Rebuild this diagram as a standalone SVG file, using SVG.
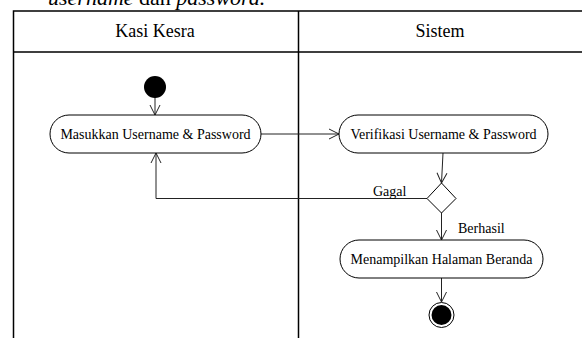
<svg xmlns="http://www.w3.org/2000/svg" width="582" height="338" viewBox="0 0 582 338">
  <style>
    .lane { fill: none; stroke: #000; stroke-width: 1.5; }
    .head { font-family: "Liberation Serif", "Times New Roman", serif; font-size: 18px; fill: #000; text-anchor: middle; }
    .act rect { fill: #fff; stroke: #000; stroke-width: 1; }
    .lbl { font-family: "Liberation Serif", "Times New Roman", serif; font-size: 14px; fill: #000; }
    .act text { text-anchor: middle; }
    .flow { fill: none; stroke: #222; stroke-width: 1; marker-end: url(#open); }
    .cap { font-family: "Liberation Serif", "Times New Roman", serif; font-size: 22px; fill: #000; }
  </style>
  <defs>
    <marker id="open" viewBox="0 0 12 12" refX="11" refY="6" markerWidth="12" markerHeight="12" markerUnits="userSpaceOnUse" orient="auto">
      <path d="M1,1 L11,6 L1,11" fill="none" stroke="#222" stroke-width="1"/>
    </marker>
  </defs>

  <rect width="582" height="338" fill="#fff"/>

  <!-- caption line running off the top edge -->
  <text class="cap" x="48" y="5"><tspan font-style="italic">username</tspan> dan <tspan font-style="italic">password.</tspan></text>

  <!-- swimlanes -->
  <g id="lanes">
    <path class="lane" d="M13.5,338 V11 H582 M13.5,52 H582 M298.5,11 V338"/>
    <text class="head" x="155" y="37">Kasi Kesra</text>
    <text class="head" x="440" y="37">Sistem</text>
  </g>

  <!-- connectors -->
  <g id="connectors">
    <path class="flow" d="M155,97 V115"/>
    <path class="flow" d="M261,134 H339"/>
    <path class="flow" d="M443,153 L441.5,183"/>
    <path class="flow" d="M427,198.5 H156 V153"/>
    <path class="flow" d="M441.5,213 V240"/>
    <path class="flow" d="M441.5,278 V302"/>
    <text class="lbl" x="373" y="196">Gagal</text>
    <text class="lbl" x="458" y="233">Berhasil</text>
  </g>

  <g id="start">
    <circle cx="155" cy="87" r="11" fill="#000"/>
  </g>

  <g id="masukkan" class="act">
    <rect x="50" y="115" width="211" height="38" rx="19" ry="19"/>
    <text class="lbl" x="155.5" y="139">Masukkan Username &amp; Password</text>
  </g>

  <g id="verifikasi" class="act">
    <rect x="339" y="115" width="209" height="38" rx="19" ry="19"/>
    <text class="lbl" x="443.5" y="139">Verifikasi Username &amp; Password</text>
  </g>

  <g id="keputusan">
    <polygon points="441.5,183 456,198.5 441.5,213 427,198.5" fill="#fff" stroke="#000" stroke-width="1"/>
  </g>

  <g id="beranda" class="act">
    <rect x="340" y="240" width="203" height="38" rx="19" ry="19"/>
    <text class="lbl" x="441.5" y="264">Menampilkan Halaman Beranda</text>
  </g>

  <g id="end">
    <circle cx="441.5" cy="315" r="12.5" fill="#fff" stroke="#000" stroke-width="1"/>
    <circle cx="441.5" cy="315" r="10" fill="#000"/>
  </g>
</svg>
